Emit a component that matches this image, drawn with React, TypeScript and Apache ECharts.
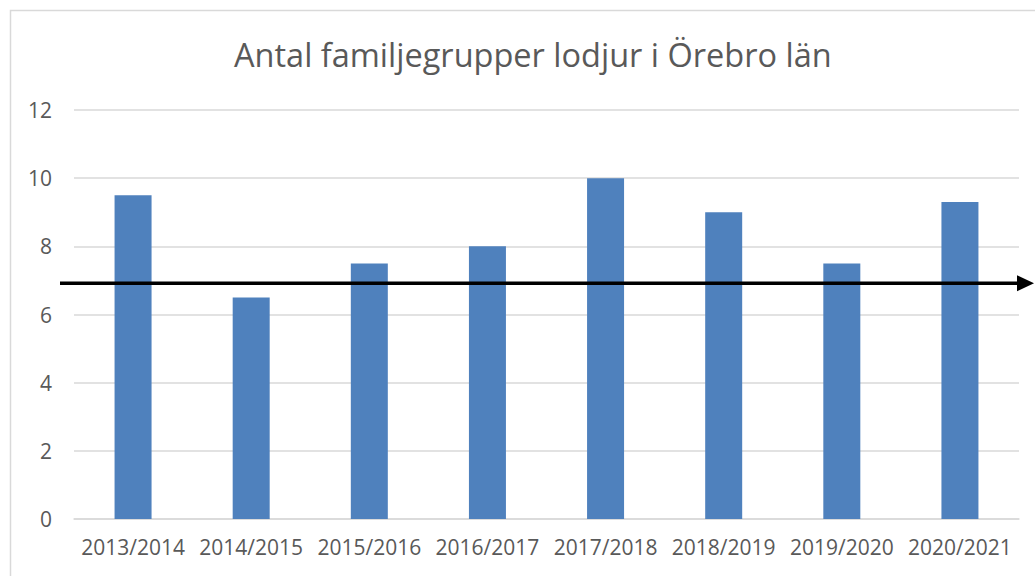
import React, { useEffect, useRef } from "react";
import * as echarts from "echarts";

const categories = ["2013/2014", "2014/2015", "2015/2016", "2016/2017", "2017/2018", "2018/2019", "2019/2020", "2020/2021"];
const values = [9.5, 6.5, 7.5, 8, 10, 9, 7.5, 9.3];
const yTicks = [0, 2, 4, 6, 8, 10, 12];
const referenceLevel = 6.92;
const titleText = "Antal familjegrupper lodjur i Örebro län";

const FONT = "'Open Sans', 'Noto Sans', sans-serif";
const TEXT = "#595959";

export default function App() {
  const ref = useRef<HTMLDivElement>(null);
  useEffect(() => {
    if (!ref.current) return;
    const chart = echarts.init(ref.current, null, { renderer: "svg" });
    chart.setOption({
      animation: false,
      title: {
        text: titleText,
        left: 229,
        top: 33,
        textStyle: { fontFamily: FONT, fontSize: 32.5, fontWeight: "normal", color: TEXT },
      },
      grid: { left: 74, right: 16, top: 110, bottom: 57, containLabel: false },
      xAxis: {
        type: "category",
        data: categories,
        axisLine: { lineStyle: { color: "#D9D9D9", width: 1.5 } },
        axisTick: { show: false },
        axisLabel: { fontFamily: FONT, fontSize: 21, color: TEXT, margin: 17, interval: 0 },
      },
      yAxis: {
        type: "value",
        min: yTicks[0],
        max: yTicks[yTicks.length - 1],
        interval: 2,
        axisLine: { show: false },
        axisTick: { show: false },
        splitLine: { lineStyle: { color: "#D9D9D9", width: 1.5 } },
        axisLabel: { fontFamily: FONT, fontSize: 21, color: TEXT, margin: 22 },
      },
      series: [
        {
          type: "bar",
          data: values,
          barWidth: 37,
          itemStyle: { color: "#4F81BD" },
        },
      ],
    });
    const yPix = chart.convertToPixel({ yAxisIndex: 0 }, referenceLevel) as number;
    chart.setOption({
      graphic: [
        {
          type: "rect",
          shape: { x: 10.5, y: 10.5, width: 1200, height: 800 },
          style: { fill: "none", stroke: "#D9D9D9", lineWidth: 1.5 },
          silent: true,
        },
        {
          type: "line",
          shape: { x1: 60, y1: yPix, x2: 1020, y2: yPix },
          style: { stroke: "#000000", lineWidth: 3.5 },
          z: 100,
        },
        {
          type: "polygon",
          shape: { points: [[1017, yPix - 8], [1034, yPix], [1017, yPix + 8]] },
          style: { fill: "#000000" },
          z: 100,
        },
      ],
    });
    return () => chart.dispose();
  }, []);
  return (
    <div
      ref={ref}
      style={{ position: "fixed", left: 0, top: 0, width: 1035, height: 576, background: "#fff" }}
    />
  );
}
